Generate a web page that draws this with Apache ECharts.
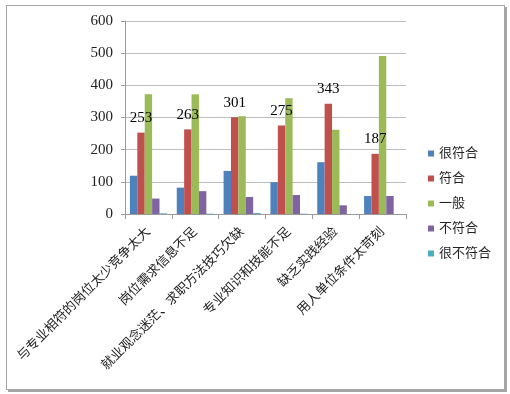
<!DOCTYPE html>
<html>
<head>
<meta charset="utf-8">
<script src="https://cdn.jsdelivr.net/npm/echarts@6/dist/echarts.min.js"></script>
<style>
html, body { margin: 0; padding: 0; background: #fff; }
.wrap { position: relative; width: 510px; height: 394px; }
.frame {
  position: absolute; left: 6px; top: 5px; width: 497px; height: 383px;
  border: 1px solid #a6a6a6; box-shadow: 2px 2px 0 #a6a6a6;
}
#chart { position: absolute; left: 0; top: 0; width: 510px; height: 394px; }
</style>
</head>
<body>
<div class="wrap">
  <div class="frame"></div>
  <div id="chart"></div>
</div>
<script>
// 类别
var categories = ['与专业相符的岗位太少竞争太大', '岗位需求信息不足', '就业观念迷茫、求职方法技巧欠缺', '专业知识和技能不足', '缺乏实践经验', '用人单位条件太苛刻']
var seriesNames = ['很符合', '符合', '一般', '不符合', '很不符合']
var veryFit = [119, 82, 134, 99, 161, 56]
var fit = [253, 263, 301, 275, 343, 187]
var normal = [372, 372, 304, 360, 262, 491]
var notFit = [48, 71, 53, 59, 27, 56]
var veryNotFit = [2, 1, 3, 1, 0, 0]
var yTicks = [0, 100, 200, 300, 400, 500, 600]

var colors = ['#4F81BD', '#C0504D', '#9BBB59', '#8064A2', '#4BACC6']
var fontFam = "'Liberation Serif', 'Noto Sans CJK SC'"

var myChart = echarts.init(document.getElementById('chart'))
var values = [veryFit, fit, normal, notFit, veryNotFit]
var series = values.map(function (d, i) {
  return {
    name: seriesNames[i],
    type: 'bar',
    data: d,
    barGap: '0%',
    barCategoryGap: '21%',
    itemStyle: { color: colors[i] },
    label: {
      show: i === 1, // 只标注"符合"
      position: 'top',
      distance: 7,
      color: '#000',
      fontSize: 15,
      fontFamily: fontFam
    }
  }
})

var option = {
  animation: false,
  textStyle: { fontFamily: fontFam },
  grid: { left: 125, right: 104, top: 21, bottom: 180 },
  legend: {
    orient: 'vertical',
    left: 423,
    top: 142,
    itemWidth: 6,
    itemHeight: 6,
    itemGap: 12,
    icon: 'rect',
    textStyle: { fontSize: 13, color: '#222', fontFamily: fontFam },
    data: seriesNames
  },
  xAxis: {
    type: 'category',
    data: categories,
    axisLine: { lineStyle: { color: '#9a9a9a' } },
    axisTick: { show: true, length: 5, lineStyle: { color: '#9a9a9a' } },
    axisLabel: {
      interval: 0,
      rotate: 45,
      margin: 16,
      fontSize: 13,
      color: '#222',
      fontFamily: fontFam
    }
  },
  yAxis: {
    type: 'value',
    min: yTicks[0],
    max: yTicks[yTicks.length - 1],
    interval: 100,
    axisLine: { show: true, lineStyle: { color: '#9a9a9a' } },
    axisTick: { show: true, length: 4, lineStyle: { color: '#9a9a9a' } },
    splitLine: { lineStyle: { color: '#bdbdbd' } },
    axisLabel: { margin: 12, fontSize: 15, color: '#222', fontFamily: fontFam }
  },
  series: series
}
myChart.setOption(option)
</script>
</body>
</html>
